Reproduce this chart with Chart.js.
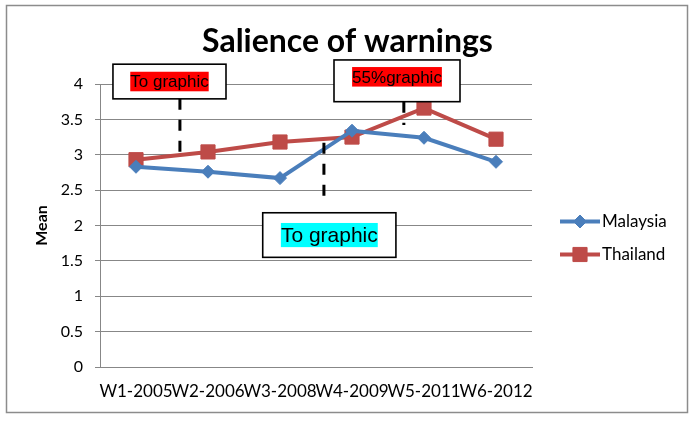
<!DOCTYPE html>
<html>
<head>
<meta charset="utf-8">
<script src="https://cdn.jsdelivr.net/npm/chart.js@4/dist/chart.umd.min.js"></script>
<style>
  html, body { margin: 0; padding: 0; background: #fff; }
  #wrap { width: 695px; height: 421px; }
</style>
</head>
<body>
<div id="wrap"><canvas id="chart"></canvas></div>
<script>
// Data
const categories = ["W1-2005", "W2-2006", "W3-2008", "W4-2009", "W5-2011", "W6-2012"];
const malaysia = [2.83, 2.76, 2.67, 3.34, 3.24, 2.90];
const thailand = [2.93, 3.04, 3.18, 3.25, 3.66, 3.22];
const chartTitle = "Salience of warnings";
const yTitle = "Mean";

// Callout boxes, placed in data units (category index / value)
const callouts = [
  { text: "To graphic", bg: "#ff0000", size: 17, x0: -0.32, x1: 1.25, top: 4.28, bottom: 3.79, lineX: 0.61, lineFrom: 3.79, lineTo: 3.0 },
  { text: "55%graphic", bg: "#ff0000", size: 17, x0: 2.75, x1: 4.50, top: 4.34, bottom: 3.75, lineX: 3.72, lineFrom: 3.75, lineTo: 3.42, dy: -4 },
  { text: "To graphic", bg: "#00ffff", size: 21, x0: 1.76, x1: 3.61, top: 2.18, bottom: 1.55, lineX: 2.61, lineFrom: 3.17, lineTo: 2.35 }
];

const BLUE = "#4a7ebb";
const RED = "#be4b48";
const GRID = "#878787";

// frame, title, legend and callouts drawn on top of the chart
const extras = {
  id: "extras",
  afterDatasetsDraw(chart) {
    const { ctx, scales: { x, y } } = chart;
    ctx.save();
    callouts.forEach(c => {
      const lx = x.getPixelForValue(c.lineX);
      ctx.strokeStyle = "#000";
      ctx.lineWidth = 3;
      ctx.setLineDash([11, 10]);
      ctx.beginPath();
      ctx.moveTo(lx, y.getPixelForValue(c.lineFrom));
      ctx.lineTo(lx, y.getPixelForValue(c.lineTo));
      ctx.stroke();
      ctx.setLineDash([]);

      const bx0 = x.getPixelForValue(c.x0), bx1 = x.getPixelForValue(c.x1);
      const by0 = y.getPixelForValue(c.top), by1 = y.getPixelForValue(c.bottom);
      ctx.fillStyle = "#fff";
      ctx.fillRect(bx0, by0, bx1 - bx0, by1 - by0);
      ctx.lineWidth = 1.6;
      ctx.strokeRect(bx0, by0, bx1 - bx0, by1 - by0);

      ctx.font = c.size + "px 'Liberation Sans', Arial, sans-serif";
      const tw = ctx.measureText(c.text).width;
      const cx = (bx0 + bx1) / 2, cy = (by0 + by1) / 2 + (c.dy || 0);
      const h = c.size * 1.15;
      ctx.fillStyle = c.bg;
      ctx.fillRect(cx - tw / 2, cy - h / 2, tw, h);
      ctx.fillStyle = "#000";
      ctx.textAlign = "center";
      ctx.textBaseline = "middle";
      ctx.fillText(c.text, cx, cy + 1);
    });
    ctx.restore();
  },
  afterDraw(chart) {
    const { ctx, chartArea, width, height } = chart;
    ctx.save();
    // outer frame
    ctx.strokeStyle = "#8c8c8c";
    ctx.lineWidth = 1.5;
    ctx.strokeRect(6.5, 5.5, width - 14, height - 14);

    // title
    ctx.fillStyle = "#000";
    ctx.font = "bold 32px Lato, sans-serif";
    ctx.textAlign = "center";
    ctx.textBaseline = "alphabetic";
    ctx.fillText(chartTitle, width / 2, 52);

    // legend
    const items = [
      { label: "Malaysia", color: BLUE, style: "rectRot", r: 6.5 },
      { label: "Thailand", color: RED, style: "rect", r: 10 }
    ];
    const lx = chartArea.right + 28;
    let ly = (chartArea.top + chartArea.bottom) / 2 - 4;
    ctx.font = "17px Lato, sans-serif";
    ctx.textAlign = "left";
    ctx.textBaseline = "middle";
    items.forEach(it => {
      ctx.strokeStyle = it.color;
      ctx.lineWidth = 4;
      ctx.beginPath();
      ctx.moveTo(lx, ly);
      ctx.lineTo(lx + 40, ly);
      ctx.stroke();
      ctx.fillStyle = it.color;
      ctx.lineWidth = 1;
      Chart.helpers.drawPoint(ctx, { pointStyle: it.style, radius: it.r, borderWidth: 1 }, lx + 20, ly);
      ctx.fillStyle = "#000";
      ctx.fillText(it.label, lx + 42, ly);
      ly += 33;
    });
    ctx.restore();
  }
};

new Chart(document.getElementById("chart"), {
  type: "line",
  data: {
    labels: categories,
    datasets: [
      {
        label: "Malaysia",
        data: malaysia,
        borderColor: BLUE,
        backgroundColor: BLUE,
        borderWidth: 4,
        pointStyle: "rectRot",
        pointRadius: 6.5,
        pointBorderWidth: 1,
        tension: 0
      },
      {
        label: "Thailand",
        data: thailand,
        borderColor: RED,
        backgroundColor: RED,
        borderWidth: 4,
        pointStyle: "rect",
        pointRadius: 10,
        pointBorderWidth: 1,
        tension: 0
      }
    ]
  },
  options: {
    responsive: true,
    maintainAspectRatio: false,
    animation: false,
    layout: { padding: { top: 84, right: 163, bottom: 0, left: 0 } },
    plugins: {
      legend: { display: false },
      title: { display: false },
      tooltip: { enabled: false }
    },
    scales: {
      x: {
        offset: true,
        grid: { display: false, offset: true },
        border: { display: true, color: GRID, width: 1 },
        ticks: {
          autoSkip: false,
          maxRotation: 0,
          minRotation: 0,
          padding: 6,
          color: "#000",
          font: { family: "Lato", size: 17 }
        },
        afterFit(scale) { scale.height = 54; }
      },
      y: {
        min: 0,
        max: 4,
        ticks: {
          stepSize: 0.5,
          padding: 12,
          color: "#000",
          font: { family: "Lato", size: 16 },
          callback: v => String(v)
        },
        grid: { color: GRID, lineWidth: 1, tickLength: 5 },
        border: { display: true, color: GRID, width: 1 },
        title: {
          display: true,
          text: yTitle,
          color: "#000",
          font: { family: "Lato", size: 16, weight: "bold" },
          padding: { top: 32 }
        },
        afterFit(scale) { scale.width = 100; }
      }
    }
  },
  plugins: [extras]
});
</script>
</body>
</html>
